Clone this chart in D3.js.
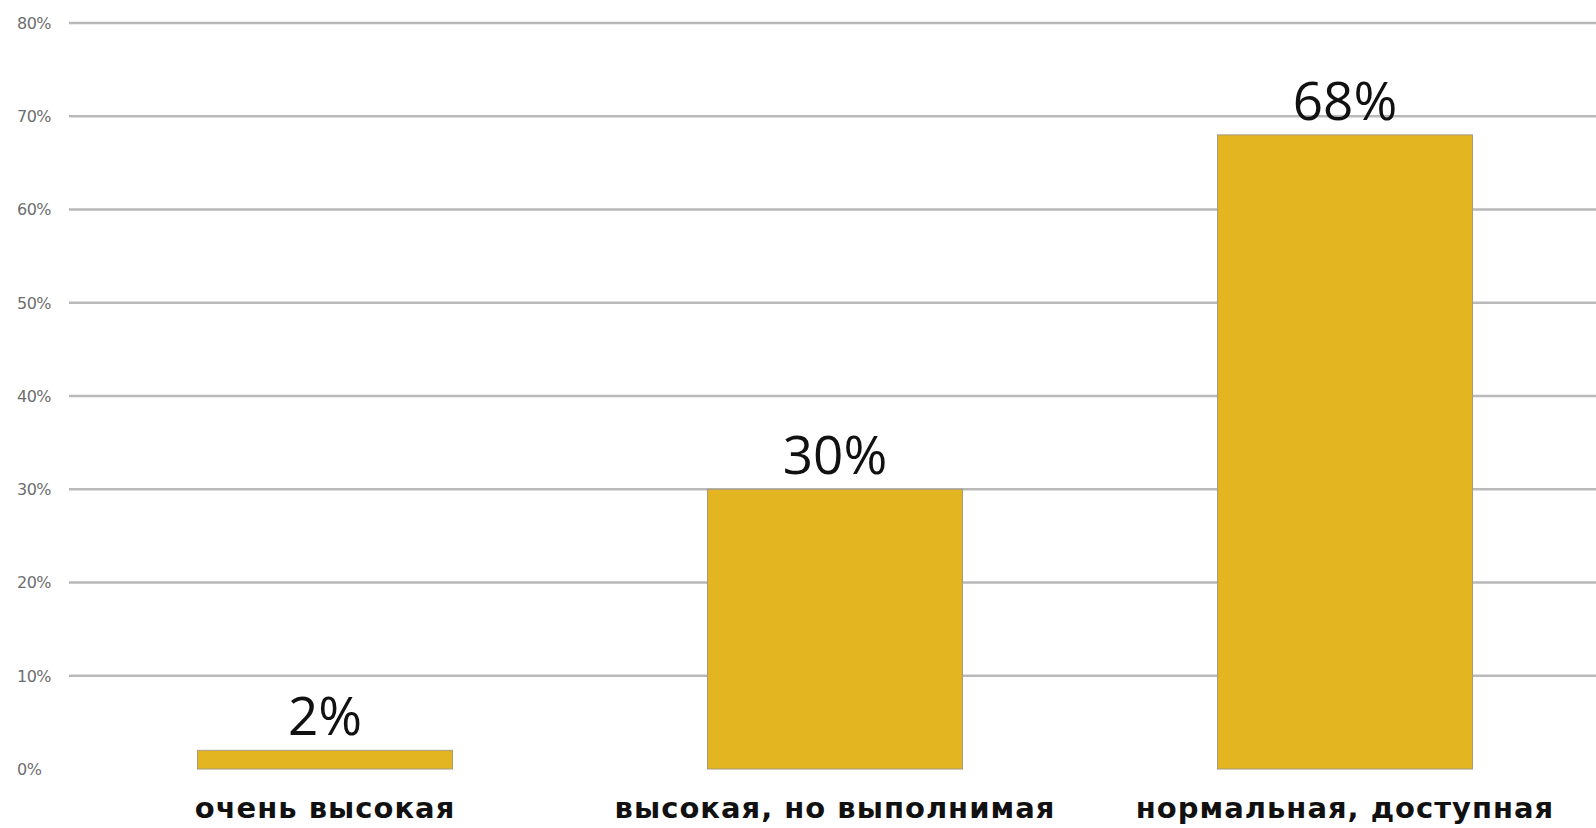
<!DOCTYPE html>
<html>
<head>
<meta charset="utf-8">
<script src="https://cdn.jsdelivr.net/npm/d3@7"></script>
<style>
  body { margin: 0; background: #fff; }
  svg { display: block; }
</style>
</head>
<body>
<div id="chart"></div>
<script>
// data
var categories = ["очень высокая", "высокая, но выполнимая", "нормальная, доступная"];
var values = [2, 30, 68];
var yTicks = [0, 10, 20, 30, 40, 50, 60, 70, 80];

var width = 1596, height = 828;
var margin = {top: 23, right: 0, bottom: 59, left: 70};

var svg = d3.select("#chart")
  .append("svg")
    .attr("width", width)
    .attr("height", height);

// x band, bars ~255px wide with big gaps
var x = d3.scaleBand()
  .domain(categories)
  .range([margin.left, width + 4])
  .paddingInner(0.5)
  .paddingOuter(0.25);

var y = d3.scaleLinear()
  .domain([0, 80])
  .range([height - margin.bottom, margin.top]);

// grid lines (no line at 0)
svg.append("g")
  .selectAll("line")
  .data(yTicks.filter(function(d) { return d > 0; }))
  .enter()
  .append("line")
    .attr("x1", margin.left - 1)
    .attr("x2", width)
    .attr("y1", function(d) { return y(d); })
    .attr("y2", function(d) { return y(d); })
    .attr("stroke", "#b9b9b9")
    .attr("stroke-width", 2.5);

// y tick labels, left aligned
svg.append("g")
  .selectAll("text")
  .data(yTicks)
  .enter()
  .append("text")
    .attr("x", 17)
    .attr("y", function(d) { return y(d); })
    .attr("dy", "0.36em")
    .attr("font-family", "DejaVu Sans, sans-serif")
    .attr("font-size", 16)
    .attr("letter-spacing", -0.5)
    .attr("fill", "#6e6e6e")
    .text(function(d) { return d + "%"; });

// bars
svg.append("g")
  .selectAll("rect")
  .data(values)
  .enter()
  .append("rect")
    .attr("x", function(d, i) { return x(categories[i]); })
    .attr("y", function(d) { return y(d); })
    .attr("width", x.bandwidth())
    .attr("height", function(d) { return y(0) - y(d); })
    .attr("fill", "#e3b520")
    .attr("stroke", "#a59a80")
    .attr("stroke-width", 1);

// value labels above bars
svg.append("g")
  .selectAll("text")
  .data(values)
  .enter()
  .append("text")
    .attr("x", function(d, i) { return x(categories[i]) + x.bandwidth() / 2; })
    .attr("y", function(d) { return y(d) - 15; })
    .attr("text-anchor", "middle")
    .attr("font-family", "Open Sans, sans-serif")
    .attr("font-size", 53)
    .attr("fill", "#111")
    .text(function(d) { return d + "%"; });

// category labels
svg.append("g")
  .selectAll("text")
  .data(categories)
  .enter()
  .append("text")
    .attr("x", function(d) { return x(d) + x.bandwidth() / 2; })
    .attr("y", 818)
    .attr("text-anchor", "middle")
    .attr("font-family", "DejaVu Sans, sans-serif")
    .attr("font-weight", "bold")
    .attr("font-size", 29)
    .attr("letter-spacing", 1)
    .attr("fill", "#111")
    .text(function(d) { return d; });
</script>
</body>
</html>
